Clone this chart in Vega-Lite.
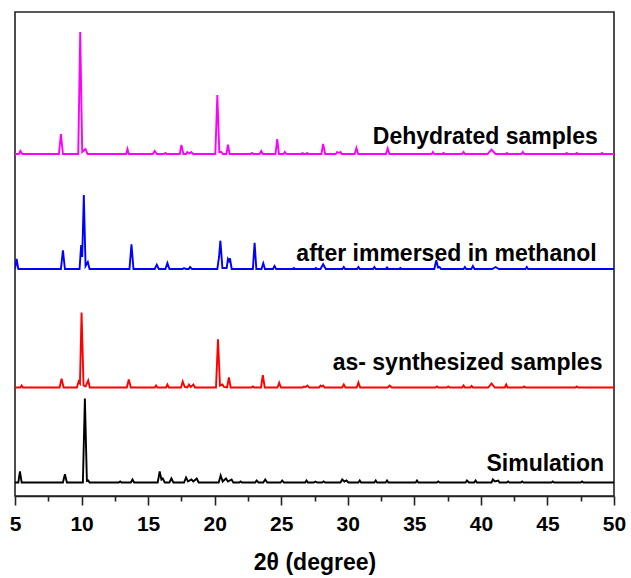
{
"$schema": "https://vega.github.io/schema/vega-lite/v6.json",
"width": 599, "height": 484,
"autosize": {"type": "none"},
"padding": {"left": 15, "top": 12, "right": 17, "bottom": 82},
"background": "white",
"config": {"view": {"stroke": "#222", "strokeWidth": 1.6}},
"resolve": {"axis": {"x": "independent"}},
"layer": [
{
"data": {"values": [
{"s":"sim","x":5,"y":13.5},{"s":"sim","x":5.25,"y":13.5},{"s":"sim","x":5.37,"y":24.5},{"s":"sim","x":5.5,"y":13.5},{"s":"sim","x":8.6,"y":13.5},{"s":"sim","x":8.75,"y":21.8},{"s":"sim","x":8.9,"y":13.5},{"s":"sim","x":10.1,"y":13.5},{"s":"sim","x":10.25,"y":97.5},{"s":"sim","x":10.4,"y":15},{"s":"sim","x":10.5,"y":15.5},{"s":"sim","x":10.6,"y":13.5},{"s":"sim","x":12.8,"y":13.5},{"s":"sim","x":12.9,"y":14.5},{"s":"sim","x":13.0,"y":13.5},{"s":"sim","x":13.7,"y":13.5},{"s":"sim","x":13.83,"y":16.5},{"s":"sim","x":13.95,"y":13.5},{"s":"sim","x":15.72,"y":13.5},{"s":"sim","x":15.87,"y":24.5},{"s":"sim","x":16.0,"y":16.5},{"s":"sim","x":16.1,"y":17.5},{"s":"sim","x":16.25,"y":13.5},{"s":"sim","x":16.6,"y":13.5},{"s":"sim","x":16.75,"y":17.5},{"s":"sim","x":16.9,"y":13.5},{"s":"sim","x":17.7,"y":13.5},{"s":"sim","x":17.85,"y":18.5},{"s":"sim","x":18.0,"y":14.5},{"s":"sim","x":18.25,"y":16.5},{"s":"sim","x":18.4,"y":14.5},{"s":"sim","x":18.65,"y":17.5},{"s":"sim","x":18.8,"y":13.5},{"s":"sim","x":20.3,"y":13.5},{"s":"sim","x":20.45,"y":20.5},{"s":"sim","x":20.6,"y":14.5},{"s":"sim","x":20.85,"y":17.5},{"s":"sim","x":21.0,"y":14.5},{"s":"sim","x":21.27,"y":16.5},{"s":"sim","x":21.4,"y":13.5},{"s":"sim","x":21.85,"y":13.5},{"s":"sim","x":21.95,"y":14.5},{"s":"sim","x":22.05,"y":13.5},{"s":"sim","x":23.05,"y":13.5},{"s":"sim","x":23.15,"y":15.5},{"s":"sim","x":23.3,"y":13.5},{"s":"sim","x":23.65,"y":13.5},{"s":"sim","x":23.8,"y":16.5},{"s":"sim","x":23.95,"y":13.5},{"s":"sim","x":24.95,"y":13.5},{"s":"sim","x":25.07,"y":15.5},{"s":"sim","x":25.2,"y":13.5},{"s":"sim","x":26.8,"y":13.5},{"s":"sim","x":26.9,"y":15.5},{"s":"sim","x":27.0,"y":13.5},{"s":"sim","x":27.45,"y":13.5},{"s":"sim","x":27.57,"y":14.5},{"s":"sim","x":27.7,"y":13.5},{"s":"sim","x":28.08,"y":13.5},{"s":"sim","x":28.18,"y":14.5},{"s":"sim","x":28.3,"y":13.5},{"s":"sim","x":29.45,"y":13.5},{"s":"sim","x":29.58,"y":16.5},{"s":"sim","x":29.75,"y":14.5},{"s":"sim","x":29.9,"y":15.5},{"s":"sim","x":30.05,"y":13.5},{"s":"sim","x":30.8,"y":13.5},{"s":"sim","x":30.9,"y":15.5},{"s":"sim","x":31.0,"y":13.5},{"s":"sim","x":32.0,"y":13.5},{"s":"sim","x":32.1,"y":15.5},{"s":"sim","x":32.2,"y":13.5},{"s":"sim","x":32.85,"y":13.5},{"s":"sim","x":32.95,"y":15.5},{"s":"sim","x":33.05,"y":13.5},{"s":"sim","x":35.1,"y":13.5},{"s":"sim","x":35.2,"y":15.5},{"s":"sim","x":35.3,"y":13.5},{"s":"sim","x":36.7,"y":13.5},{"s":"sim","x":36.8,"y":14.5},{"s":"sim","x":36.9,"y":13.5},{"s":"sim","x":38.85,"y":13.5},{"s":"sim","x":38.95,"y":15.5},{"s":"sim","x":39.1,"y":13.5},{"s":"sim","x":39.5,"y":13.5},{"s":"sim","x":39.6,"y":15.5},{"s":"sim","x":39.7,"y":13.5},{"s":"sim","x":40.8,"y":13.5},{"s":"sim","x":40.9,"y":16.5},{"s":"sim","x":41.05,"y":14.5},{"s":"sim","x":41.3,"y":15.5},{"s":"sim","x":41.4,"y":13.5},{"s":"sim","x":41.95,"y":13.5},{"s":"sim","x":42.05,"y":14.5},{"s":"sim","x":42.15,"y":13.5},{"s":"sim","x":43.0,"y":13.5},{"s":"sim","x":43.1,"y":14.5},{"s":"sim","x":43.2,"y":13.5},{"s":"sim","x":45.3,"y":13.5},{"s":"sim","x":45.4,"y":14.5},{"s":"sim","x":45.5,"y":13.5},{"s":"sim","x":47.5,"y":13.5},{"s":"sim","x":47.6,"y":14.5},{"s":"sim","x":47.7,"y":13.5},{"s":"sim","x":50,"y":13.5},
{"s":"syn","x":5,"y":108.5},{"s":"syn","x":5.4,"y":108.5},{"s":"syn","x":5.5,"y":110.5},{"s":"syn","x":5.6,"y":108.5},{"s":"syn","x":8.35,"y":108.5},{"s":"syn","x":8.5,"y":117.2},{"s":"syn","x":8.65,"y":108.5},{"s":"syn","x":9.65,"y":108.5},{"s":"syn","x":9.78,"y":114.5},{"s":"syn","x":9.88,"y":112.5},{"s":"syn","x":10.0,"y":183.5},{"s":"syn","x":10.15,"y":110.5},{"s":"syn","x":10.3,"y":109.5},{"s":"syn","x":10.5,"y":115.5},{"s":"syn","x":10.62,"y":108.5},{"s":"syn","x":13.4,"y":108.5},{"s":"syn","x":13.55,"y":116.5},{"s":"syn","x":13.7,"y":108.5},{"s":"syn","x":15.5,"y":108.5},{"s":"syn","x":15.6,"y":110.5},{"s":"syn","x":15.7,"y":108.5},{"s":"syn","x":16.35,"y":108.5},{"s":"syn","x":16.45,"y":111.5},{"s":"syn","x":16.55,"y":108.5},{"s":"syn","x":17.47,"y":108.5},{"s":"syn","x":17.6,"y":114.5},{"s":"syn","x":17.75,"y":109},{"s":"syn","x":17.95,"y":108.5},{"s":"syn","x":18.07,"y":111.5},{"s":"syn","x":18.2,"y":109},{"s":"syn","x":18.4,"y":111.5},{"s":"syn","x":18.52,"y":108.5},{"s":"syn","x":20.1,"y":108.5},{"s":"syn","x":20.25,"y":156.8},{"s":"syn","x":20.4,"y":110.5},{"s":"syn","x":20.58,"y":111.5},{"s":"syn","x":20.7,"y":109},{"s":"syn","x":20.93,"y":108.5},{"s":"syn","x":21.07,"y":118.5},{"s":"syn","x":21.2,"y":108.5},{"s":"syn","x":22.77,"y":108.5},{"s":"syn","x":22.87,"y":109.5},{"s":"syn","x":22.97,"y":108.5},{"s":"syn","x":23.48,"y":108.5},{"s":"syn","x":23.62,"y":120.8},{"s":"syn","x":23.76,"y":108.5},{"s":"syn","x":24.72,"y":108.5},{"s":"syn","x":24.85,"y":113.2},{"s":"syn","x":24.98,"y":108.5},{"s":"syn","x":26.6,"y":108.5},{"s":"syn","x":26.7,"y":109.5},{"s":"syn","x":26.82,"y":108.8},{"s":"syn","x":26.97,"y":110.5},{"s":"syn","x":27.1,"y":108.5},{"s":"syn","x":27.85,"y":108.5},{"s":"syn","x":27.95,"y":110.5},{"s":"syn","x":28.05,"y":109.5},{"s":"syn","x":28.15,"y":110.5},{"s":"syn","x":28.25,"y":108.5},{"s":"syn","x":29.58,"y":108.5},{"s":"syn","x":29.7,"y":111.5},{"s":"syn","x":29.82,"y":108.5},{"s":"syn","x":30.67,"y":108.5},{"s":"syn","x":30.8,"y":113.5},{"s":"syn","x":30.93,"y":108.5},{"s":"syn","x":33.0,"y":108.5},{"s":"syn","x":33.15,"y":110.5},{"s":"syn","x":33.3,"y":108.5},{"s":"syn","x":36.6,"y":108.5},{"s":"syn","x":36.7,"y":109.5},{"s":"syn","x":36.8,"y":108.5},{"s":"syn","x":37.45,"y":108.5},{"s":"syn","x":37.55,"y":109.5},{"s":"syn","x":37.65,"y":108.5},{"s":"syn","x":38.6,"y":108.5},{"s":"syn","x":38.7,"y":110.5},{"s":"syn","x":38.8,"y":108.5},{"s":"syn","x":39.2,"y":108.5},{"s":"syn","x":39.3,"y":110},{"s":"syn","x":39.4,"y":108.5},{"s":"syn","x":40.55,"y":108.5},{"s":"syn","x":40.8,"y":112.5},{"s":"syn","x":41.05,"y":108.5},{"s":"syn","x":41.8,"y":108.5},{"s":"syn","x":41.9,"y":111.5},{"s":"syn","x":42.0,"y":108.5},{"s":"syn","x":43.15,"y":108.5},{"s":"syn","x":43.25,"y":109.5},{"s":"syn","x":43.35,"y":108.5},{"s":"syn","x":47.1,"y":108.5},{"s":"syn","x":47.2,"y":109.5},{"s":"syn","x":47.3,"y":108.5},{"s":"syn","x":50,"y":108.5},
{"s":"met","x":5,"y":227},{"s":"met","x":5.12,"y":237},{"s":"met","x":5.25,"y":227},{"s":"met","x":8.45,"y":227},{"s":"met","x":8.6,"y":245.7},{"s":"met","x":8.75,"y":227},{"s":"met","x":9.85,"y":227},{"s":"met","x":9.97,"y":251},{"s":"met","x":10.05,"y":239},{"s":"met","x":10.17,"y":301},{"s":"met","x":10.3,"y":230},{"s":"met","x":10.47,"y":234},{"s":"met","x":10.6,"y":227},{"s":"met","x":13.6,"y":227},{"s":"met","x":13.75,"y":251.7},{"s":"met","x":13.9,"y":227},{"s":"met","x":15.5,"y":227},{"s":"met","x":15.65,"y":231.3},{"s":"met","x":15.8,"y":227},{"s":"met","x":16.3,"y":227},{"s":"met","x":16.45,"y":233},{"s":"met","x":16.6,"y":227},{"s":"met","x":17.6,"y":227},{"s":"met","x":17.7,"y":228},{"s":"met","x":17.85,"y":227},{"s":"met","x":18.05,"y":227},{"s":"met","x":18.15,"y":229},{"s":"met","x":18.3,"y":227},{"s":"met","x":20.2,"y":227},{"s":"met","x":20.33,"y":239},{"s":"met","x":20.43,"y":255.3},{"s":"met","x":20.58,"y":228},{"s":"met","x":20.9,"y":228},{"s":"met","x":21.0,"y":237},{"s":"met","x":21.08,"y":235},{"s":"met","x":21.15,"y":237.7},{"s":"met","x":21.28,"y":227},{"s":"met","x":22.87,"y":227},{"s":"met","x":23.0,"y":253.3},{"s":"met","x":23.13,"y":227},{"s":"met","x":23.52,"y":227},{"s":"met","x":23.65,"y":232.7},{"s":"met","x":23.78,"y":227},{"s":"met","x":24.38,"y":227},{"s":"met","x":24.5,"y":230},{"s":"met","x":24.62,"y":227},{"s":"met","x":25.85,"y":227},{"s":"met","x":25.95,"y":228},{"s":"met","x":26.05,"y":227},{"s":"met","x":27.5,"y":227},{"s":"met","x":27.6,"y":228},{"s":"met","x":27.7,"y":227},{"s":"met","x":27.95,"y":227},{"s":"met","x":28.15,"y":231.7},{"s":"met","x":28.35,"y":227},{"s":"met","x":29.6,"y":227},{"s":"met","x":29.7,"y":229},{"s":"met","x":29.8,"y":227},{"s":"met","x":30.7,"y":227},{"s":"met","x":30.8,"y":229},{"s":"met","x":30.9,"y":227},{"s":"met","x":31.9,"y":227},{"s":"met","x":32.0,"y":229},{"s":"met","x":32.1,"y":227},{"s":"met","x":32.85,"y":227},{"s":"met","x":32.95,"y":228.5},{"s":"met","x":33.05,"y":227},{"s":"met","x":33.85,"y":227},{"s":"met","x":33.95,"y":228},{"s":"met","x":34.05,"y":227},{"s":"met","x":36.5,"y":227},{"s":"met","x":36.65,"y":235.7},{"s":"met","x":36.78,"y":228.5},{"s":"met","x":36.9,"y":229},{"s":"met","x":37.0,"y":227},{"s":"met","x":38.7,"y":227},{"s":"met","x":38.8,"y":229},{"s":"met","x":38.9,"y":227},{"s":"met","x":39.28,"y":227},{"s":"met","x":39.4,"y":230},{"s":"met","x":39.52,"y":227},{"s":"met","x":40.85,"y":227},{"s":"met","x":41.1,"y":229},{"s":"met","x":41.35,"y":227},{"s":"met","x":43.35,"y":227},{"s":"met","x":43.45,"y":229},{"s":"met","x":43.55,"y":227},{"s":"met","x":50,"y":227},
{"s":"deh","x":5,"y":342},{"s":"deh","x":5.3,"y":342},{"s":"deh","x":5.4,"y":345},{"s":"deh","x":5.55,"y":342},{"s":"deh","x":8.3,"y":342},{"s":"deh","x":8.45,"y":362},{"s":"deh","x":8.6,"y":342},{"s":"deh","x":9.75,"y":342},{"s":"deh","x":9.9,"y":464},{"s":"deh","x":10.05,"y":344},{"s":"deh","x":10.3,"y":347},{"s":"deh","x":10.45,"y":342},{"s":"deh","x":13.35,"y":342},{"s":"deh","x":13.45,"y":347},{"s":"deh","x":13.55,"y":342},{"s":"deh","x":15.35,"y":342},{"s":"deh","x":15.5,"y":345},{"s":"deh","x":15.65,"y":342},{"s":"deh","x":16.2,"y":342},{"s":"deh","x":16.3,"y":343},{"s":"deh","x":16.4,"y":342},{"s":"deh","x":17.38,"y":342},{"s":"deh","x":17.5,"y":351},{"s":"deh","x":17.65,"y":342},{"s":"deh","x":17.85,"y":342},{"s":"deh","x":17.95,"y":344},{"s":"deh","x":18.1,"y":342.5},{"s":"deh","x":18.25,"y":344},{"s":"deh","x":18.38,"y":342},{"s":"deh","x":20.05,"y":342},{"s":"deh","x":20.2,"y":401},{"s":"deh","x":20.35,"y":344},{"s":"deh","x":20.5,"y":344},{"s":"deh","x":20.62,"y":342},{"s":"deh","x":20.88,"y":342},{"s":"deh","x":21.0,"y":351.3},{"s":"deh","x":21.12,"y":342},{"s":"deh","x":22.7,"y":342},{"s":"deh","x":22.8,"y":343},{"s":"deh","x":22.9,"y":342},{"s":"deh","x":23.38,"y":342},{"s":"deh","x":23.5,"y":345},{"s":"deh","x":23.62,"y":342},{"s":"deh","x":24.57,"y":342},{"s":"deh","x":24.7,"y":357},{"s":"deh","x":24.83,"y":342},{"s":"deh","x":25.17,"y":342},{"s":"deh","x":25.27,"y":344},{"s":"deh","x":25.37,"y":342},{"s":"deh","x":26.5,"y":342},{"s":"deh","x":26.6,"y":343},{"s":"deh","x":26.75,"y":342},{"s":"deh","x":26.85,"y":342},{"s":"deh","x":26.95,"y":343},{"s":"deh","x":27.05,"y":342},{"s":"deh","x":28.02,"y":342},{"s":"deh","x":28.15,"y":352},{"s":"deh","x":28.3,"y":342},{"s":"deh","x":29.1,"y":342},{"s":"deh","x":29.2,"y":344},{"s":"deh","x":29.32,"y":343},{"s":"deh","x":29.45,"y":344},{"s":"deh","x":29.55,"y":342},{"s":"deh","x":30.52,"y":342},{"s":"deh","x":30.65,"y":348},{"s":"deh","x":30.78,"y":342},{"s":"deh","x":32.87,"y":342},{"s":"deh","x":33.0,"y":347.7},{"s":"deh","x":33.13,"y":342},{"s":"deh","x":36.3,"y":342},{"s":"deh","x":36.4,"y":344},{"s":"deh","x":36.5,"y":342},{"s":"deh","x":37.1,"y":342},{"s":"deh","x":37.2,"y":343},{"s":"deh","x":37.3,"y":342},{"s":"deh","x":38.6,"y":342},{"s":"deh","x":38.7,"y":344},{"s":"deh","x":38.8,"y":342},{"s":"deh","x":40.5,"y":342},{"s":"deh","x":40.8,"y":346.3},{"s":"deh","x":41.1,"y":342},{"s":"deh","x":41.85,"y":342},{"s":"deh","x":41.95,"y":343},{"s":"deh","x":42.05,"y":342},{"s":"deh","x":43.05,"y":342},{"s":"deh","x":43.15,"y":344},{"s":"deh","x":43.25,"y":342},{"s":"deh","x":46.35,"y":342},{"s":"deh","x":46.45,"y":343},{"s":"deh","x":46.55,"y":342},{"s":"deh","x":47.1,"y":342},{"s":"deh","x":47.2,"y":343},{"s":"deh","x":47.3,"y":342},{"s":"deh","x":49.0,"y":342},{"s":"deh","x":49.1,"y":343},{"s":"deh","x":49.2,"y":342},{"s":"deh","x":50,"y":342}
]},
"mark": {"type": "line", "strokeWidth": 1.9, "clip": true},
"encoding": {
"x": {"field": "x", "type": "quantitative", "scale": {"domain": [5, 50], "nice": false, "zero": false},
 "axis": {"orient": "bottom", "values": [5,10,15,20,25,30,35,40,45,50], "tickSize": 9, "tickWidth": 1.6, "tickColor": "#222", "domainColor": "#222", "domainWidth": 1.6, "grid": false, "labelFont": "Liberation Sans", "labelFontWeight": "bold", "labelFontSize": 21, "labelColor": "#000", "labelPadding": 8, "labelFlush": false, "labelOverlap": false, "title": "2θ (degree)", "titleFont": "Liberation Sans", "titleFontWeight": "bold", "titleFontSize": 23, "titleColor": "#000", "titlePadding": 17}},
"y": {"field": "y", "type": "quantitative", "scale": {"domain": [0, 484]}, "axis": null},
"color": {"field": "s", "type": "nominal", "scale": {"domain": ["sim", "syn", "met", "deh"], "range": ["#000000", "#ff0000", "#0000ff", "#ff00ff"]}, "legend": null}
}
},
{
"data": {"values": [
{"label": "Dehydrated samples", "x": 48.78, "y": 351.7},
{"label": "after immersed in methanol", "x": 48.7, "y": 235},
{"label": "as- synthesized samples", "x": 49.13, "y": 126},
{"label": "Simulation", "x": 49.25, "y": 25}
]},
"mark": {"type": "text", "align": "right", "baseline": "alphabetic", "font": "Liberation Sans", "fontWeight": "bold", "fontSize": 23, "color": "#000"},
"encoding": {
"x": {"field": "x", "type": "quantitative", "scale": {"domain": [5, 50], "nice": false, "zero": false},
 "axis": {"orient": "bottom", "values": [7.5,12.5,17.5,22.5,27.5,32.5,37.5,42.5,47.5], "tickSize": 5, "tickWidth": 1.6, "tickColor": "#222", "domain": false, "labels": false, "grid": false, "title": null}},
"y": {"field": "y", "type": "quantitative", "scale": {"domain": [0, 484]}, "axis": null},
"text": {"field": "label", "type": "nominal"}
}
}
]
}
